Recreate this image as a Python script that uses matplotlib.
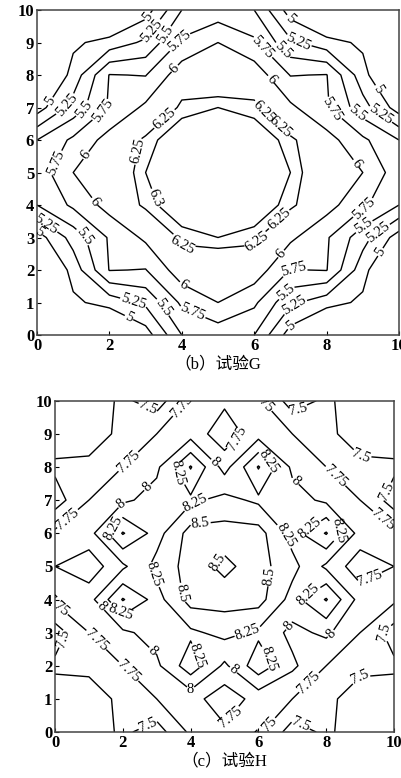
import numpy as np
import matplotlib
matplotlib.use("Agg")
import matplotlib.pyplot as plt

plt.rcParams['font.family'] = ['Liberation Serif', 'Noto Sans CJK SC']

# grid positions (m)
xs = [0, 1, 2, 3, 4, 5, 6, 7, 8, 9, 10]
ys = [0, 1, 2, 3, 4, 5, 6, 7, 8, 9, 10]

# test G values, rows = y from 0 to 10
zg = [
    [4.2, 4.3, 4.5, 4.88, 5.5, 5.6, 5.5, 4.88, 4.5, 4.3, 4.2],
    [4.3, 4.95, 5.1, 5.3, 5.8, 6.0, 5.8, 5.3, 5.1, 4.95, 4.3],
    [4.5, 5.1, 5.76, 5.74, 6.15, 6.15, 6.15, 5.74, 5.76, 5.1, 4.5],
    [4.88, 5.35, 5.78, 6.05, 6.28, 6.3, 6.28, 6.05, 5.78, 5.35, 4.88],
    [5.5, 5.8, 6.1, 6.28, 6.34, 6.36, 6.34, 6.28, 6.1, 5.8, 5.5],
    [5.6, 6.0, 6.15, 6.3, 6.36, 6.4, 6.36, 6.3, 6.15, 6.0, 5.6],
    [5.5, 5.8, 6.1, 6.28, 6.34, 6.36, 6.34, 6.28, 6.1, 5.8, 5.5],
    [4.88, 5.35, 5.78, 6.05, 6.28, 6.3, 6.28, 6.05, 5.78, 5.35, 4.88],
    [4.5, 5.1, 5.76, 5.74, 6.15, 6.15, 6.15, 5.74, 5.76, 5.1, 4.5],
    [4.3, 4.95, 5.1, 5.3, 5.8, 6.0, 5.8, 5.3, 5.1, 4.95, 4.3],
    [4.2, 4.3, 4.5, 4.88, 5.5, 5.6, 5.5, 4.88, 4.5, 4.3, 4.2],
]
levels_g = [5, 5.25, 5.5, 5.75, 6, 6.25, 6.3]

# test H values
zh = [
    [7.3, 7.35, 7.55, 7.38, 7.8, 7.8, 7.8, 7.38, 7.55, 7.35, 7.3],
    [7.35, 7.4, 7.55, 7.75, 7.85, 7.6, 7.85, 7.75, 7.55, 7.4, 7.35],
    [7.55, 7.55, 7.75, 7.95, 8.4, 7.95, 8.4, 8.05, 7.75, 7.55, 7.55],
    [7.38, 7.75, 7.95, 8.1, 8.2, 8.33, 8.2, 7.93, 8.05, 7.75, 7.38],
    [7.8, 7.9, 8.52, 8.15, 8.6, 8.6, 8.6, 8.15, 8.52, 7.9, 7.8],
    [7.75, 7.6, 7.95, 8.33, 8.6, 8.45, 8.6, 8.33, 7.95, 7.6, 7.75],
    [7.8, 7.9, 8.52, 8.15, 8.6, 8.6, 8.6, 8.15, 8.52, 7.9, 7.8],
    [7.38, 7.75, 7.95, 8.1, 8.2, 8.33, 8.2, 8.1, 7.95, 7.75, 7.38],
    [7.55, 7.55, 7.75, 7.95, 8.52, 7.9, 8.52, 7.95, 7.75, 7.55, 7.55],
    [7.35, 7.4, 7.55, 7.75, 7.9, 7.6, 7.9, 7.75, 7.55, 7.4, 7.35],
    [7.3, 7.35, 7.55, 7.38, 7.8, 7.8, 7.8, 7.38, 7.55, 7.35, 7.3],
]
levels_h = [7.5, 7.75, 8, 8.25, 8.5]

captions = ['（b）试验G', '（c）试验H']

# where the labels sit on the lines
spots_g = [(0.36, 7.2), (0.77, 7.1), (1.33, 6.9), (1.74, 7.0), (3.0, 9.85),
           (3.26, 9.3), (3.6, 9.2), (3.85, 9.1), (3.76, 8.25), (7.0, 9.75),
           (7.2, 8.97), (6.16, 8.77), (6.7, 8.67), (6.44, 7.85), (9.47, 7.6),
           (8.18, 7.0), (8.84, 6.8), (9.56, 6.9), (3.4, 6.8), (6.35, 7.0),
           (6.7, 6.4), (2.57, 5.7), (0.5, 5.3), (1.27, 5.6), (8.84, 5.3),
           (1.52, 4.05), (3.12, 4.15), (0.3, 3.5), (0.08, 3.2), (1.27, 3.0),
           (3.95, 2.7), (5.88, 3.0), (6.9, 3.3), (9.0, 3.95), (9.0, 3.4),
           (9.47, 3.1), (9.56, 2.5), (6.9, 2.35), (7.08, 1.85), (6.9, 1.3),
           (7.08, 0.97), (7.0, 0.3), (4.04, 1.54), (4.3, 0.7), (3.5, 0.87),
           (2.66, 1.0), (2.48, 0.4)]
spots_h = [(2.7, 9.7), (3.93, 9.68), (5.75, 9.68), (7.18, 9.7), (5.26, 8.97),
           (2.06, 8.27), (3.5, 7.76), (4.67, 8.1), (6.24, 8.07),
           (6.93, 7.4), (8.06, 7.5), (9.0, 7.9), (9.7, 7.3), (9.69, 6.4),
           (3.1, 7.0), (1.77, 7.06), (0.49, 6.3), (1.67, 6.2),
           (4.18, 6.76), (4.28, 6.4), (6.74, 5.9), (7.42, 6.3), (8.4, 6.1),
           (4.87, 5.05), (2.8, 4.7), (3.74, 4.2), (6.34, 4.7), (0.39, 4.2),
           (9.49, 4.19), (7.57, 4.0), (1.38, 3.8), (1.92, 3.6), (1.43, 3.0),
           (0.3, 2.8), (5.65, 3.13), (6.98, 3.13), (8.11, 3.0), (9.7, 3.0),
           (2.85, 2.43), (4.18, 2.28), (5.26, 1.87), (6.24, 2.18), (7.42, 1.57),
           (8.9, 2.12), (2.11, 1.77), (3.98, 1.22), (5.16, 0.46), (5.85, 0.46),
           (2.7, 0.3), (7.28, 0.3)]


def draw(ax, z, levels, caption, spots):
    X, Y = np.meshgrid(xs, ys)
    cs = ax.contour(X, Y, np.array(z), levels=levels, colors='black', linewidths=1.0)
    ax.clabel(cs, fmt='%g', fontsize=10.5, inline=True, inline_spacing=1, manual=spots)
    ax.set_xlim(0, 10)
    ax.set_ylim(0, 10)
    ax.set_xticks([0, 2, 4, 6, 8, 10])
    ax.set_yticks(range(11))
    ax.tick_params(direction='in', length=3, width=0.8, labelsize=12, pad=2)
    for lab in ax.get_xticklabels() + ax.get_yticklabels():
        lab.set_fontweight('bold')
    for sp in ax.spines.values():
        sp.set_linewidth(1.1)
        sp.set_color('#444444')
    ax.set_xlabel(caption, fontsize=12, labelpad=2)


fig = plt.figure(figsize=(4.01, 7.78), dpi=100)
ax1 = fig.add_axes([0.0923, 0.5694, 0.9027, 0.4177])
ax2 = fig.add_axes([0.1372, 0.0591, 0.8454, 0.4258])
draw(ax1, zg, levels_g, captions[0], spots_g)
draw(ax2, zh, levels_h, captions[1], spots_h)

fig.savefig('out.png', dpi=100)
